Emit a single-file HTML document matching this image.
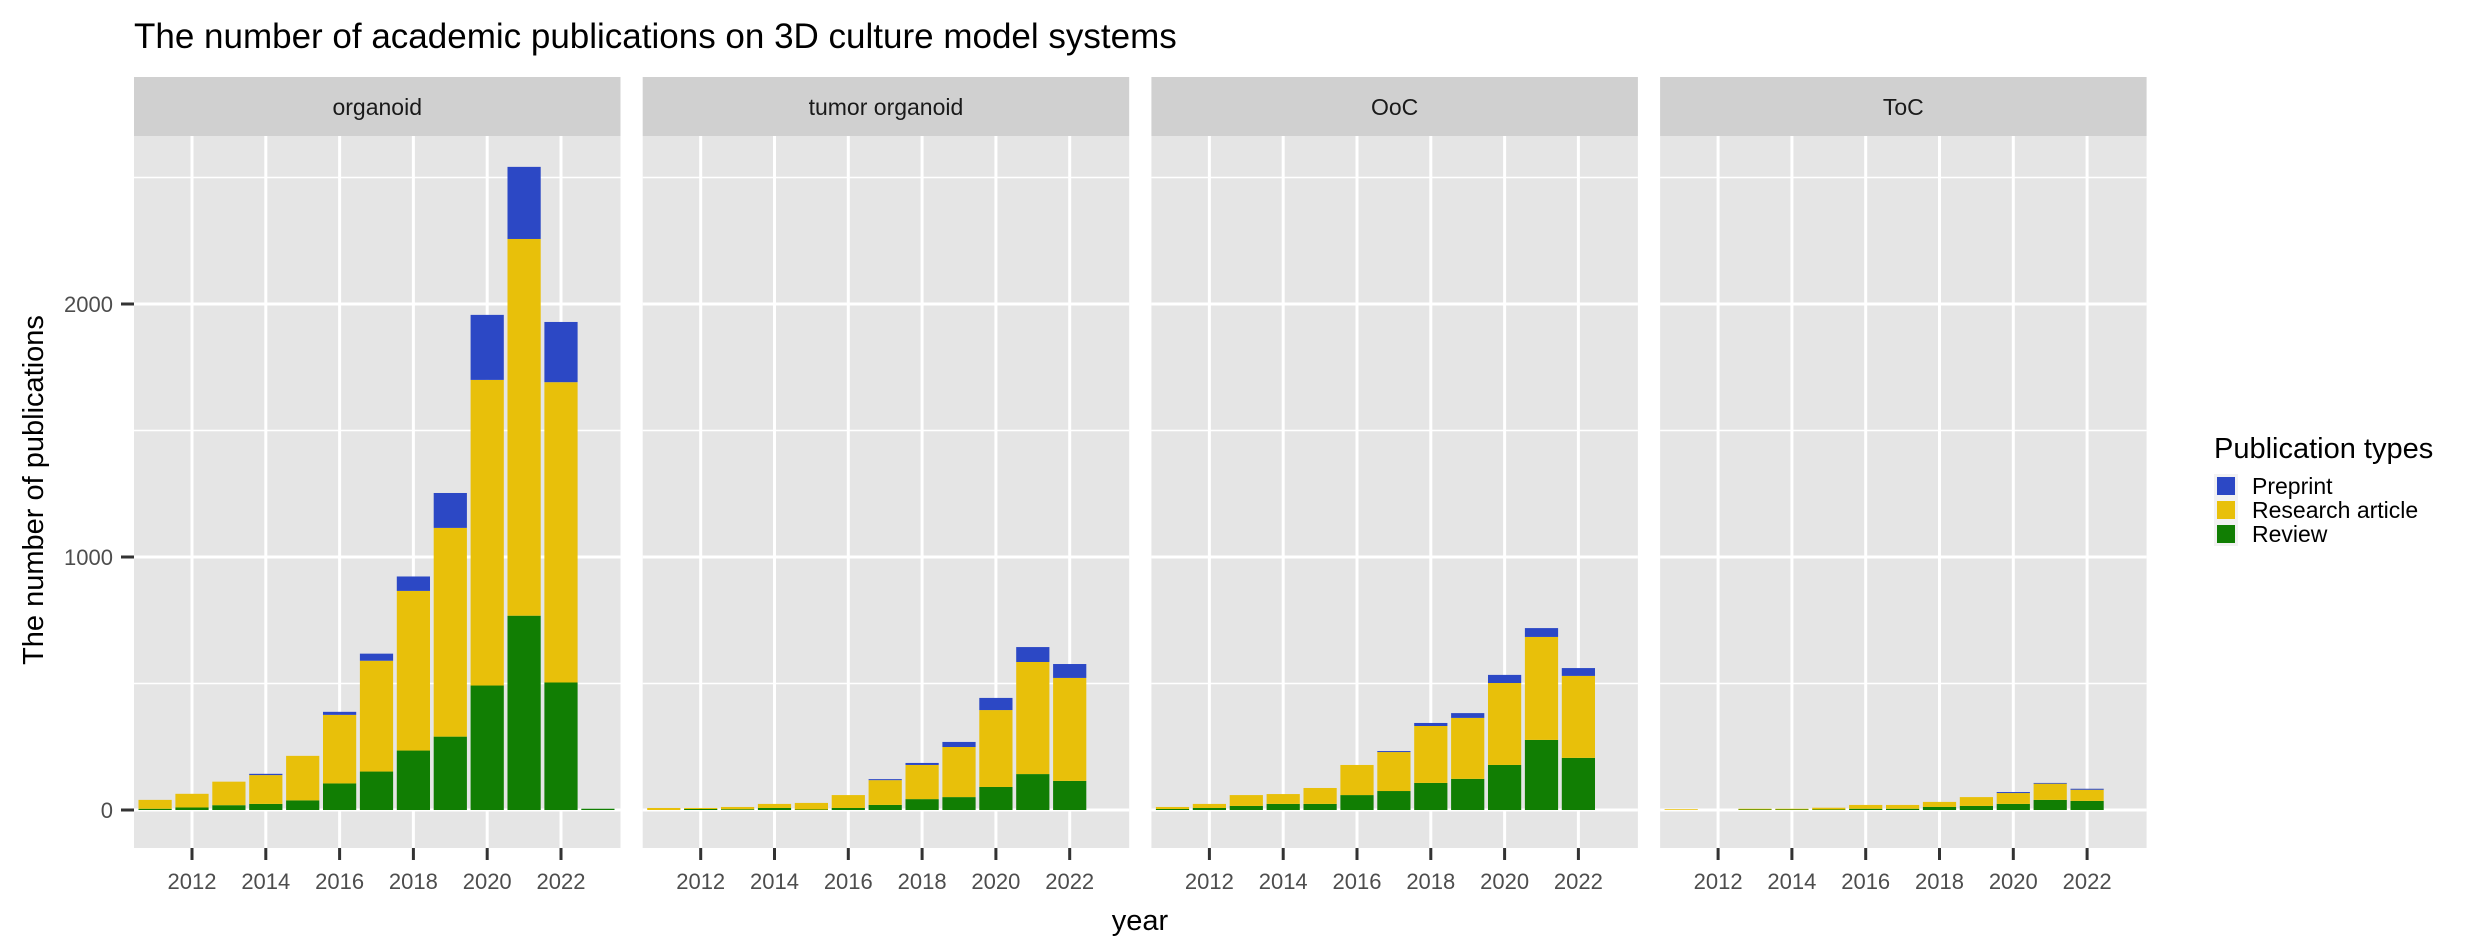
<!DOCTYPE html>
<html><head><meta charset="utf-8"><style>
html,body{margin:0;padding:0;background:#fff;}
svg{display:block;font-family:"Liberation Sans",Arial,sans-serif;}
</style></head><body>
<svg id="chart" width="2480" height="944" xmlns="http://www.w3.org/2000/svg">
<text x="134" y="48" font-size="35" fill="#000">The number of academic publications on 3D culture model systems</text>
<text transform="translate(43,490) rotate(-90)" text-anchor="middle" font-size="29" fill="#000">The number of publications</text>
<text x="1140" y="930" text-anchor="middle" font-size="29" fill="#000">year</text>
<g>
<text x="2214" y="458" font-size="29" fill="#000">Publication types</text>
<rect x="2214" y="474" width="24" height="24" fill="#f2f2f2"/>
<rect x="2217" y="477" width="18" height="18" fill="#2c48c5"/>
<text x="2252" y="494" font-size="23">Preprint</text>
<rect x="2214" y="498" width="24" height="24" fill="#f2f2f2"/>
<rect x="2217" y="501" width="18" height="18" fill="#e8c00a"/>
<text x="2252" y="518" font-size="23">Research article</text>
<rect x="2214" y="522" width="24" height="24" fill="#f2f2f2"/>
<rect x="2217" y="525" width="18" height="18" fill="#117e03"/>
<text x="2252" y="542" font-size="23">Review</text>
</g>
</svg>
<script>
const panelNames = ["organoid","tumor organoid","OoC","ToC"];
const organoidYears = [2011,2012,2013,2014,2015,2016,2017,2018,2019,2020,2021,2022,2023];
const organoidReview = [5,10,19,24,38,105,152,235,290,492,768,504,5];
const organoidResearch = [35,54,93,114,176,271,438,631,825,1208,1489,1187,0];
const organoidPreprint = [0,0,0,5,0,12,28,57,138,257,285,238,0];
const tumorYears = [2011,2012,2013,2014,2015,2016,2017,2018,2019,2020,2021,2022];
const tumorReview = [0,4,3,8,2,8,20,43,51,91,142,115];
const tumorResearch = [8,4,9,16,26,51,98,135,198,304,443,407];
const tumorPreprint = [0,0,0,0,0,0,4,8,20,48,59,55];
const oocYears = [2011,2012,2013,2014,2015,2016,2017,2018,2019,2020,2021,2022];
const oocReview = [4,8,16,24,24,59,75,107,123,178,277,206];
const oocResearch = [8,16,43,39,63,119,154,225,241,324,407,324];
const oocPreprint = [0,0,0,0,0,0,4,12,19,32,35,31];
const tocYears = [2011,2012,2013,2014,2015,2016,2017,2018,2019,2020,2021,2022];
const tocReview = [0,0,2,2,2,5,5,12,16,24,40,36];
const tocResearch = [3,0,3,3,7,15,15,20,35,43,64,44];
const tocPreprint = [0,0,0,0,0,0,0,0,0,4,3,4];
const xTicks = [2012,2014,2016,2018,2020,2022];
const yTicks = [0,1000,2000];
const yMinor = [500,1500,2500];

const panelData = [
 [organoidYears,organoidReview,organoidResearch,organoidPreprint],
 [tumorYears,tumorReview,tumorResearch,tumorPreprint],
 [oocYears,oocReview,oocResearch,oocPreprint],
 [tocYears,tocReview,tocResearch,tocPreprint]
];
const svg = document.getElementById('chart');
const NS = 'http://www.w3.org/2000/svg';
const PW = 486.5, PSTEP = 508.7, PL0 = 134, PT = 136, PB = 848, ST = 77;
const Y0 = 810, YS = 0.253, XS = 36.9;
function yPos(v){ return Y0 - v*YS; }
function xPos(p, yr){ return PL0 + p*PSTEP + 58 + (yr-2012)*XS; }
function mk(tag, attrs){ const e=document.createElementNS(NS,tag); for(const k in attrs) e.setAttribute(k,attrs[k]); svg.appendChild(e); return e; }
const colors = ['#117e03','#e8c00a','#2c48c5'];
const sNames = ['review','research','preprint'];
for(let p=0;p<4;p++){
  const left = PL0 + p*PSTEP;
  const st = mk('rect',{x:left,y:ST,width:PW,height:PT-ST,fill:'#d0d0d0'});
  
  
  const stt = mk('text',{x:left+PW/2,y:115,'text-anchor':'middle','font-size':23,fill:'#1a1a1a'});
  stt.textContent = panelNames[p];
  
  
  const bg = mk('rect',{x:left,y:PT,width:PW,height:PB-PT,fill:'#e5e5e5'});
  
  
  yMinor.forEach(v=>{ const l=mk('line',{x1:left,x2:left+PW,y1:yPos(v),y2:yPos(v),stroke:'#fff','stroke-width':1.5});
    
     });
  yTicks.forEach(v=>{ const l=mk('line',{x1:left,x2:left+PW,y1:yPos(v),y2:yPos(v),stroke:'#fff','stroke-width':3});
    
     });
  xTicks.forEach(t=>{ const x=xPos(p,t);
    const l=mk('line',{x1:x,x2:x,y1:PT,y2:PB,stroke:'#fff','stroke-width':3});
    
    
    const tk=mk('line',{x1:x,x2:x,y1:PB,y2:PB+12,stroke:'#333','stroke-width':3});
    
    
    const tl=mk('text',{x:x,y:889,'text-anchor':'middle','font-size':22,fill:'#4d4d4d'});
    tl.textContent=t;
    
    
  });
  const d = panelData[p];
  d[0].forEach((yr,i)=>{
    let base=0;
    for(let s=0;s<3;s++){
      const v=d[s+1][i]; if(v<=0) continue;
      const r=mk('rect',{x:xPos(p,yr)-0.45*XS,width:0.9*XS,y:yPos(base+v),height:v*YS,fill:colors[s]});
      
      
      base+=v;
    }
  });
}
yTicks.forEach(v=>{
  const tk=mk('line',{x1:121,x2:134,y1:yPos(v),y2:yPos(v),stroke:'#333','stroke-width':3});
  
  
  const tl=mk('text',{x:113,y:yPos(v)+8,'text-anchor':'end','font-size':22,fill:'#4d4d4d'});
  tl.textContent=v;
  
  
});
</script>
</body></html>
